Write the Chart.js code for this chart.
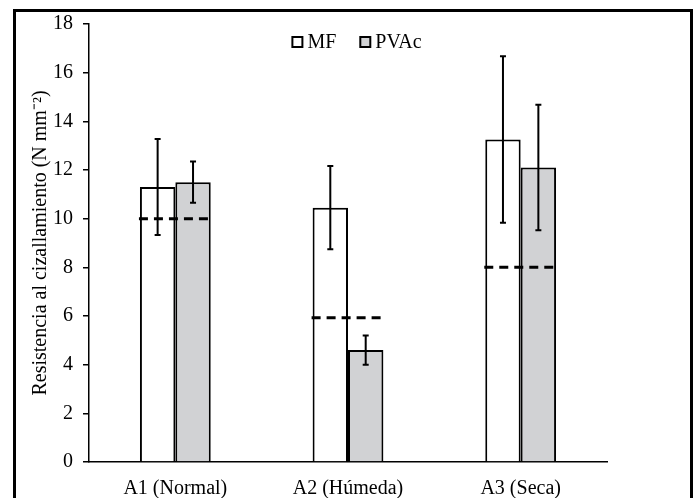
<!DOCTYPE html>
<html>
<head>
<meta charset="utf-8">
<script src="https://cdn.jsdelivr.net/npm/chart.js@4.4.1/dist/chart.umd.min.js"></script>
<style>
  html, body { margin: 0; padding: 0; background: #fff; overflow: hidden; }
  #wrap { position: relative; width: 696px; height: 498px; }
  #frame { position: absolute; left: 13px; top: 9px; width: 680px; height: 600px;
           border: 3px solid #000; box-sizing: border-box; pointer-events: none; }
</style>
</head>
<body>
<div id="wrap">
  <canvas id="c" width="696" height="498"></canvas>
  <div id="frame"></div>
</div>
<script>
// data
var categories = ['A1 (Normal)', 'A2 (Húmeda)', 'A3 (Seca)'];
var mfValues   = [11.3, 10.45, 13.25];
var mfErrors   = [1.97, 1.71, 3.42];
var pvacValues = [11.5, 4.6, 12.1];
var pvacErrors = [0.85, 0.6, 2.58];
var refValues  = [10.0, 5.93, 8.0];   // dashed lines
var yMin = 0, yMax = 18, yStep = 2;
var yTitle = 'Resistencia al cizallamiento (N mm\u207B\u00B2)';

var FONT = "'Liberation Serif', 'Times New Roman', serif";
Chart.defaults.font.family = FONT;
Chart.defaults.color = '#000';

// error bars + dashed reference lines
var overlays = {
  id: 'overlays',
  afterDatasetsDraw: function (chart) {
    var ctx = chart.ctx, y = chart.scales.y;
    var errs = [mfErrors, pvacErrors];
    ctx.save();
    ctx.strokeStyle = '#000';
    ctx.lineWidth = 2;
    errs.forEach(function (err, di) {
      var meta = chart.getDatasetMeta(di);
      meta.data.forEach(function (bar, i) {
        var v = chart.data.datasets[di].data[i];
        var top = y.getPixelForValue(v + err[i]);
        var bot = y.getPixelForValue(v - err[i]);
        ctx.beginPath();
        ctx.moveTo(bar.x, top); ctx.lineTo(bar.x, bot);
        ctx.moveTo(bar.x - 3, top); ctx.lineTo(bar.x + 3, top);
        ctx.moveTo(bar.x - 3, bot); ctx.lineTo(bar.x + 3, bot);
        ctx.stroke();
      });
    });

    var m0 = chart.getDatasetMeta(0), m1 = chart.getDatasetMeta(1);
    ctx.lineWidth = 3;
    ctx.setLineDash([9, 6]);
    refValues.forEach(function (v, i) {
      var b0 = m0.data[i], b1 = m1.data[i];
      var py = y.getPixelForValue(v);
      ctx.beginPath();
      ctx.moveTo(b0.x - b0.width / 2 - 1, py);
      ctx.lineTo(b1.x + b1.width / 2 + 3, py);
      ctx.stroke();
    });
    ctx.restore();
  }
};

// legend drawn inside the plot, top centre
var innerLegend = {
  id: 'innerLegend',
  afterDraw: function (chart) {
    var ctx = chart.ctx, area = chart.chartArea;
    var ds = chart.data.datasets;
    ctx.save();
    ctx.font = '20px ' + FONT;
    var box = 10, gap = 5, between = 24;
    var total = 0;
    ds.forEach(function (d, i) {
      total += box + gap + ctx.measureText(d.label).width + (i ? between : 0);
    });
    var x = (area.left + area.right) / 2 + 9 - total / 2;
    var cy = area.top + 18;
    ctx.textBaseline = 'middle';
    ds.forEach(function (d) {
      ctx.fillStyle = d.backgroundColor;
      ctx.fillRect(x, cy - box / 2, box, box);
      ctx.strokeStyle = '#000';
      ctx.lineWidth = 2;
      ctx.strokeRect(x, cy - box / 2, box, box);
      x += box + gap;
      ctx.fillStyle = '#000';
      ctx.fillText(d.label, x, cy + 1);
      x += ctx.measureText(d.label).width + between;
    });
    ctx.restore();
  }
};

new Chart(document.getElementById('c'), {
  type: 'bar',
  data: {
    labels: categories,
    datasets: [
      { label: 'MF', data: mfValues, backgroundColor: '#ffffff',
        borderColor: '#000', borderWidth: 2, barPercentage: 1, categoryPercentage: 0.41 },
      { label: 'PVAc', data: pvacValues, backgroundColor: '#d1d2d4',
        borderColor: '#000', borderWidth: 2, barPercentage: 1, categoryPercentage: 0.41 }
    ]
  },
  options: {
    responsive: false,
    animation: false,
    layout: { padding: { left: 0, right: 89, top: 24, bottom: 0 } },
    plugins: { legend: { display: false }, tooltip: { enabled: false } },
    scales: {
      x: {
        grid: { display: false, drawTicks: false },
        border: { display: true, color: '#000', width: 1.5 },
        ticks: { color: '#000', font: { size: 20 }, padding: 15 },
        afterFit: function (s) { s.height = 36; }
      },
      y: {
        min: yMin, max: yMax,
        ticks: { stepSize: yStep, color: '#000', font: { size: 20 }, padding: 10 },
        grid: { display: true, drawOnChartArea: false, drawTicks: true, tickLength: 6,
                color: '#000', lineWidth: 1.5 },
        border: { display: true, color: '#000', width: 1.5 },
        title: { display: true, text: yTitle, color: '#000', font: { size: 20 },
                 padding: { top: 29, bottom: 0 } },
        afterFit: function (s) { s.width = 89; }
      }
    }
  },
  plugins: [overlays, innerLegend]
});
</script>
</body>
</html>
